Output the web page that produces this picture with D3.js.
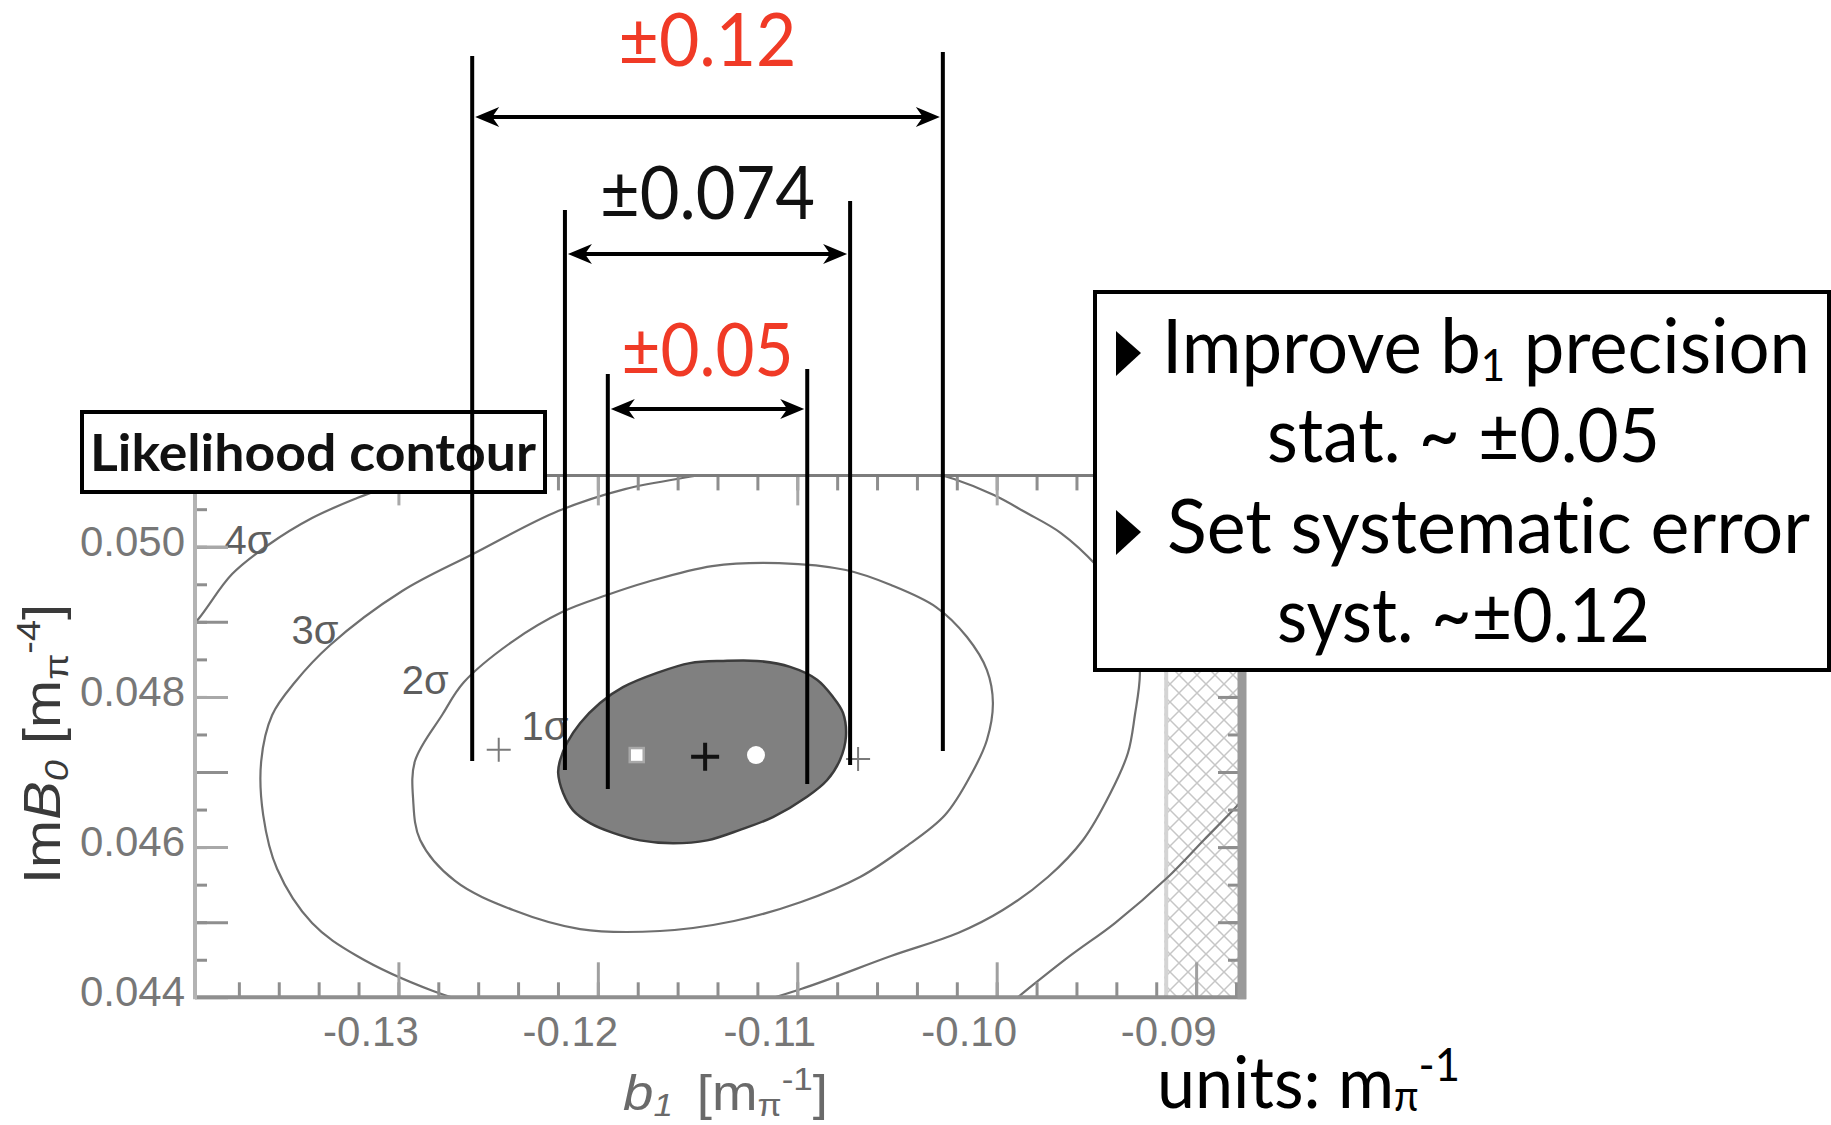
<!DOCTYPE html>
<html>
<head>
<meta charset="utf-8">
<script src="https://cdn.jsdelivr.net/npm/d3@7"></script>
<style>
  body { margin: 0; background: #fff; }
  svg { display: block; }
  text { font-variant-ligatures: none; font-feature-settings: "liga" 0; }
</style>
</head>
<body>
<svg width="1831" height="1125"></svg>
<script>
// axis ticks
const xTicks = [-0.13, -0.12, -0.11, -0.10, -0.09];
const xTickLabels = ["-0.13", "-0.12", "-0.11", "-0.10", "-0.09"];
const yTicks = [0.044, 0.046, 0.048, 0.050];
const yTickLabels = ["0.044", "0.046", "0.048", "0.050"];

// likelihood contours, points are [b1, ImB0]
const sigma1 = [
  [-0.12199, 0.04699], [-0.12174, 0.04672], [-0.12124, 0.04649], [-0.12039, 0.04632],
  [-0.11924, 0.04619], [-0.11788, 0.04609], [-0.11623, 0.04605], [-0.11452, 0.04609],
  [-0.11287, 0.04623], [-0.11122, 0.04640], [-0.10951, 0.04667], [-0.10851, 0.04689],
  [-0.10786, 0.04716], [-0.10756, 0.04747], [-0.10771, 0.04779], [-0.10821, 0.04800],
  [-0.10901, 0.04823], [-0.11036, 0.04840], [-0.11202, 0.04848], [-0.11372, 0.04848],
  [-0.11538, 0.04845], [-0.11703, 0.04832], [-0.11874, 0.04813], [-0.11989, 0.04792],
  [-0.12089, 0.04765], [-0.12154, 0.04739], [-0.12189, 0.04716]
];
const sigma2 = [
  [-0.12926, 0.046627], [-0.12917, 0.047146], [-0.12781, 0.047759], [-0.12671, 0.048198],
  [-0.12425, 0.048744], [-0.12179, 0.049131], [-0.11954, 0.049357], [-0.11753, 0.049530],
  [-0.11427, 0.049743], [-0.11091, 0.049783], [-0.10756, 0.049690], [-0.10530, 0.049490],
  [-0.10304, 0.049197], [-0.10149, 0.048798], [-0.10049, 0.048358], [-0.10019, 0.047919],
  [-0.10049, 0.047426], [-0.10124, 0.046987], [-0.10259, 0.046427], [-0.10465, 0.045988],
  [-0.10685, 0.045602], [-0.10981, 0.045269], [-0.11317, 0.045016], [-0.11688, 0.044883],
  [-0.12089, 0.044909], [-0.12425, 0.045162], [-0.12716, 0.045549], [-0.12891, 0.046095]
];
const sigma3 = [
  [-0.13678, 0.046427], [-0.13688, 0.047146], [-0.13633, 0.047759], [-0.13518, 0.048198],
  [-0.13342, 0.048691], [-0.12981, 0.049410], [-0.12626, 0.049903], [-0.12199, 0.050475],
  [-0.11864, 0.050768], [-0.11487, 0.050955], [-0.11137, 0.051115], [-0.10786, 0.051168],
  [-0.10460, 0.051075], [-0.10214, 0.050901], [-0.10014, 0.050688], [-0.09858, 0.050462],
  [-0.09678, 0.050182], [-0.09497, 0.049743], [-0.09372, 0.049317], [-0.09302, 0.048824],
  [-0.09282, 0.048305], [-0.09307, 0.047759], [-0.09342, 0.047253], [-0.09432, 0.046707],
  [-0.09567, 0.046095], [-0.09743, 0.045602], [-0.09969, 0.045162], [-0.10194, 0.044856],
  [-0.10530, 0.044550], [-0.10981, 0.044111], [-0.11387, 0.043804], [-0.11788, 0.043671],
  [-0.12189, 0.043698], [-0.12540, 0.043858], [-0.12826, 0.044084], [-0.13207, 0.044550],
  [-0.13433, 0.044989], [-0.13608, 0.045708]
];
// 4 sigma only shows in two corners
const sigma4TopLeft = [
  [-0.14145, 0.048598], [-0.13999, 0.049051], [-0.13834, 0.049636], [-0.13653, 0.050023],
  [-0.13433, 0.050382], [-0.13207, 0.050648], [-0.12991, 0.050861], [-0.12766, 0.051075]
];
const sigma4BottomRight = [
  [-0.10034, 0.043698], [-0.09893, 0.044004], [-0.09633, 0.044550], [-0.09407, 0.044989],
  [-0.09141, 0.045602], [-0.08961, 0.046095], [-0.08800, 0.046534], [-0.08655, 0.046960]
];

const contourLabels = ["1σ", "2σ", "3σ", "4σ"];
const contourLabelB1 = [-0.12265, -0.12866, -0.13418, -0.13754];
const contourLabelImB0 = [0.047613, 0.048225, 0.048891, 0.050090];

// points inside the 1 sigma region
const bestFit = [-0.11462, 0.047204];
const squarePoint = [-0.11805, 0.047226];
const circlePoint = [-0.11207, 0.047226];
const crossPoints = [[-0.12497, 0.047298], [-0.10695, 0.047173]];

// error bands drawn around the central b1
const b1Center = -0.1145;
const bandHalf = [0.0118, 0.00715, 0.005];
const bandLabels = ["±0.12", "±0.074", "±0.05"];
const bandColors = ["#f03a26", "#111", "#f03a26"];
const bandEndLeft = [0.047146, 0.047026, 0.046774];
const bandEndRight = [0.047280, 0.047093, 0.046841];

// excluded b1 region (hatched)
const excludedFrom = -0.0916;

const svg = d3.select("svg");

const x = d3.scaleLinear().domain([-0.1402, -0.0879]).range([195, 1238]);
const y = d3.scaleLinear().domain([0.044, 0.05095]).range([997.3, 475.4]);
const [x0, x1] = x.range();
const [yb, yt] = y.range();

const defs = svg.append("defs");
defs.append("clipPath").attr("id", "plot")
  .append("rect").attr("x", x0).attr("y", yt).attr("width", x1 - x0).attr("height", yb - yt);
const pat = defs.append("pattern").attr("id", "hatch")
  .attr("patternUnits", "userSpaceOnUse").attr("width", 18).attr("height", 18);
pat.append("path").attr("d", "M0,0L18,18M18,0L0,18M-2,16L2,20M16,-2L20,2")
  .attr("stroke", "#c6c6c6").attr("stroke-width", 1.5);

// hatched region
svg.append("rect")
  .attr("x", x(excludedFrom)).attr("y", yt)
  .attr("width", x1 - x(excludedFrom)).attr("height", yb - yt)
  .attr("fill", "url(#hatch)");
svg.append("line")
  .attr("x1", x(excludedFrom) + 2).attr("x2", x(excludedFrom) + 2)
  .attr("y1", yt).attr("y2", yb)
  .attr("stroke", "#d4d4d4").attr("stroke-width", 4);

const plot = svg.append("g").attr("clip-path", "url(#plot)");

const closed = d3.line().x(d => x(d[0])).y(d => y(d[1])).curve(d3.curveCatmullRomClosed);
const open = d3.line().x(d => x(d[0])).y(d => y(d[1])).curve(d3.curveCatmullRom);

[sigma3, sigma2].forEach(c => {
  plot.append("path").attr("d", closed(c))
    .attr("fill", "none").attr("stroke", "#6f6f6f").attr("stroke-width", 2.2);
});
[sigma4TopLeft, sigma4BottomRight].forEach(c => {
  plot.append("path").attr("d", open(c))
    .attr("fill", "none").attr("stroke", "#6f6f6f").attr("stroke-width", 2.2);
});
plot.append("path").attr("d", closed(sigma1))
  .attr("fill", "#808080").attr("stroke", "#3c3c3c").attr("stroke-width", 2.5);

// markers
plot.selectAll(".cross").data(crossPoints).join("path")
  .attr("d", d => `M${x(d[0]) - 12},${y(d[1])}h24M${x(d[0])},${y(d[1]) - 12}v24`)
  .attr("stroke", "#7a7a7a").attr("stroke-width", 2);
plot.append("rect")
  .attr("x", x(squarePoint[0]) - 7).attr("y", y(squarePoint[1]) - 7)
  .attr("width", 14).attr("height", 14)
  .attr("fill", "#fff").attr("stroke", "#a8a8a8").attr("stroke-width", 2.5);
plot.append("circle")
  .attr("cx", x(circlePoint[0])).attr("cy", y(circlePoint[1])).attr("r", 9)
  .attr("fill", "#fff");
plot.append("path")
  .attr("d", `M${x(bestFit[0]) - 14},${y(bestFit[1])}h28M${x(bestFit[0])},${y(bestFit[1]) - 14}v28`)
  .attr("stroke", "#111").attr("stroke-width", 4);

// contour labels
svg.selectAll(".clab").data(contourLabels).join("text")
  .attr("x", (d, i) => x(contourLabelB1[i]))
  .attr("y", (d, i) => y(contourLabelImB0[i]))
  .attr("dy", "0.35em")
  .attr("text-anchor", "middle")
  .attr("font-family", "Liberation Sans, Arial, sans-serif")
  .attr("font-size", 40)
  .attr("fill", "#5e5e5e")
  .text(d => d);

// axes
const xMinor = d3.range(26).map(i => -0.138 + i * 0.002);
const yMinor = d3.range(14).map(i => 0.0445 + i * 0.0005);
const yMid = d3.range(7).map(i => 0.045 + i * 0.001);

function styleTicks(g, color) {
  g.select(".domain").remove();
  g.selectAll("line").attr("stroke", color).attr("stroke-width", 3);
}
function axisAt(axis, tx, ty, color) {
  return svg.append("g").attr("transform", `translate(${tx},${ty})`)
    .call(axis).call(g => styleTicks(g, color));
}

axisAt(d3.axisBottom(x).tickValues(xMinor).tickSize(-15).tickFormat(""), 0, yb, "#8e8e8e");
const bottomMajor = axisAt(d3.axisBottom(x).tickValues(xTicks).tickSize(-35)
  .tickFormat((d, i) => xTickLabels[i]), 0, yb, "#a0a0a0");
bottomMajor.attr("font-family", "Liberation Sans, Arial, sans-serif").attr("font-size", 42);
bottomMajor.selectAll("text").attr("y", 49).attr("dy", 0).attr("dx", -28).attr("fill", "#777");

axisAt(d3.axisTop(x).tickValues(xMinor).tickSize(-15).tickFormat(""), 0, yt, "#8e8e8e");
axisAt(d3.axisTop(x).tickValues(xTicks).tickSize(-30).tickFormat(""), 0, yt, "#a8a8a8");

axisAt(d3.axisLeft(y).tickValues(yMinor).tickSize(-12).tickFormat(""), x0, 0, "#8e8e8e");
axisAt(d3.axisLeft(y).tickValues(yMid).tickSize(-33).tickFormat(""), x0, 0, "#8e8e8e");
const leftMajor = axisAt(d3.axisLeft(y).tickValues(yTicks).tickSize(-33)
  .tickFormat((d, i) => yTickLabels[i]), x0, 0, "#a8a8a8");
leftMajor.attr("font-family", "Liberation Sans, Arial, sans-serif").attr("font-size", 42);
leftMajor.selectAll("text").attr("x", -10).attr("dy", "0.2em").attr("fill", "#777");

axisAt(d3.axisRight(y).tickValues(yMinor).tickSize(-10).tickFormat(""), x1, 0, "#8e8e8e");
axisAt(d3.axisRight(y).tickValues(yMid).tickSize(-20).tickFormat(""), x1, 0, "#8e8e8e");

// frame
svg.append("line").attr("x1", x0).attr("x2", x1 + 8).attr("y1", yb).attr("y2", yb)
  .attr("stroke", "#8f8f8f").attr("stroke-width", 4);
svg.append("line").attr("x1", x0).attr("x2", x0).attr("y1", yt).attr("y2", yb + 2)
  .attr("stroke", "#b3b3b3").attr("stroke-width", 4);
svg.append("line").attr("x1", x0).attr("x2", x1).attr("y1", yt).attr("y2", yt)
  .attr("stroke", "#7c7c7c").attr("stroke-width", 3);
svg.append("line").attr("x1", x1 + 4).attr("x2", x1 + 4).attr("y1", yt).attr("y2", yb + 2)
  .attr("stroke", "#9a9a9a").attr("stroke-width", 9);

// axis titles
const xTitle = svg.append("text")
  .attr("x", 623).attr("y", 1110)
  .attr("font-family", "Liberation Sans, Arial, sans-serif")
  .attr("font-size", 50).attr("fill", "#6a6a6a")
  .attr("textLength", 205).attr("lengthAdjust", "spacingAndGlyphs");
xTitle.append("tspan").attr("font-style", "italic").text("b");
xTitle.append("tspan").attr("font-style", "italic").attr("font-size", 32).attr("dy", 6).text("1");
xTitle.append("tspan").attr("dy", -6).attr("dx", 22).text("[m");
xTitle.append("tspan").attr("font-size", 32).attr("dy", 6).text("π");
xTitle.append("tspan").attr("font-size", 32).attr("dy", -26).text("-1");
xTitle.append("tspan").attr("dy", 20).text("]");

const yTitle = svg.append("text")
  .attr("transform", "translate(60,744) rotate(-90)")
  .attr("text-anchor", "middle")
  .attr("font-family", "Liberation Sans, Arial, sans-serif")
  .attr("font-size", 52).attr("fill", "#3a3a3a")
  .attr("textLength", 280).attr("lengthAdjust", "spacingAndGlyphs");
yTitle.append("tspan").text("Im");
yTitle.append("tspan").attr("font-style", "italic").text("B");
yTitle.append("tspan").attr("font-style", "italic").attr("font-size", 34).attr("dy", 8).text("0");
yTitle.append("tspan").attr("dy", -8).text(" [m");
yTitle.append("tspan").attr("font-size", 34).attr("dy", 8).text("π");
yTitle.append("tspan").attr("font-size", 34).attr("dy", -28).text("-4");
yTitle.append("tspan").attr("dy", 20).text("]");

// "Likelihood contour" tag
svg.append("rect").attr("x", 82).attr("y", 412).attr("width", 463).attr("height", 80)
  .attr("fill", "#fff").attr("stroke", "#000").attr("stroke-width", 4);
svg.append("text").attr("x", 90).attr("y", 471)
  .attr("font-family", "Lato, sans-serif").attr("font-weight", "bold")
  .attr("font-size", 52).attr("fill", "#111")
  .attr("textLength", 446).attr("lengthAdjust", "spacingAndGlyphs")
  .text("Likelihood contour");

// right-hand note
svg.append("rect").attr("x", 1095).attr("y", 292).attr("width", 734).attr("height", 378)
  .attr("fill", "#fff").attr("stroke", "#000").attr("stroke-width", 4);
const noteFont = t => t.attr("font-family", "Lato, sans-serif").attr("font-size", 76)
  .attr("fill", "#000").attr("lengthAdjust", "spacingAndGlyphs");

svg.append("path").attr("d", "M1116,331L1141,353L1116,376Z").attr("fill", "#000");
const l1 = svg.append("text").attr("x", 1162).attr("y", 373).call(noteFont).attr("textLength", 648);
l1.append("tspan").text("Improve b");
l1.append("tspan").attr("font-size", 44).attr("dy", 8).text("1");
l1.append("tspan").attr("dy", -8).text(" precision");
svg.append("text").attr("x", 1267).attr("y", 462).call(noteFont).attr("textLength", 393)
  .text("stat. ~ ±0.05");
svg.append("path").attr("d", "M1116,510L1141,532L1116,555Z").attr("fill", "#000");
svg.append("text").attr("x", 1167).attr("y", 553).call(noteFont).attr("textLength", 643)
  .text("Set systematic error");
svg.append("text").attr("x", 1277).attr("y", 642).call(noteFont).attr("textLength", 373)
  .text("syst. ~±0.12");

// units
const units = svg.append("text").attr("x", 1157).attr("y", 1108).call(noteFont)
  .attr("font-size", 72).attr("textLength", 303);
units.append("tspan").text("units: m");
units.append("tspan").attr("font-size", 42).attr("dy", 3).text("π");
units.append("tspan").attr("font-size", 46).attr("dy", -30).text("-1");

// error band annotations
const bandArrowY = [117, 254, 409];
const bandTopLeft = [56, 210, 374];
const bandTopRight = [52, 201, 369];
const bandLabelY = [66, 219, 376];
const bandLabelW = [178, 215, 172];
const head = 24, barb = 10;

bandHalf.forEach((h, i) => {
  const xl = x(b1Center - h), xr = x(b1Center + h);
  const g = svg.append("g");
  g.append("line").attr("x1", xl).attr("x2", xl)
    .attr("y1", bandTopLeft[i]).attr("y2", y(bandEndLeft[i]))
    .attr("stroke", "#000").attr("stroke-width", 4);
  g.append("line").attr("x1", xr).attr("x2", xr)
    .attr("y1", bandTopRight[i]).attr("y2", y(bandEndRight[i]))
    .attr("stroke", "#000").attr("stroke-width", 4);
  const ay = bandArrowY[i];
  g.append("line").attr("x1", xl + 8).attr("x2", xr - 8).attr("y1", ay).attr("y2", ay)
    .attr("stroke", "#000").attr("stroke-width", 4);
  const a = xl + 3, b = xr - 3;
  g.append("path")
    .attr("d", `M${a},${ay}L${a + head},${ay - barb}L${a + head - 7},${ay}L${a + head},${ay + barb}Z`
      + `M${b},${ay}L${b - head},${ay - barb}L${b - head + 7},${ay}L${b - head},${ay + barb}Z`)
    .attr("fill", "#000");
  g.append("text").attr("x", x(b1Center)).attr("y", bandLabelY[i])
    .attr("text-anchor", "middle")
    .attr("font-family", "Lato, sans-serif").attr("font-size", 74)
    .attr("fill", bandColors[i])
    .attr("textLength", bandLabelW[i]).attr("lengthAdjust", "spacingAndGlyphs")
    .text(bandLabels[i]);
});
</script>
</body>
</html>
